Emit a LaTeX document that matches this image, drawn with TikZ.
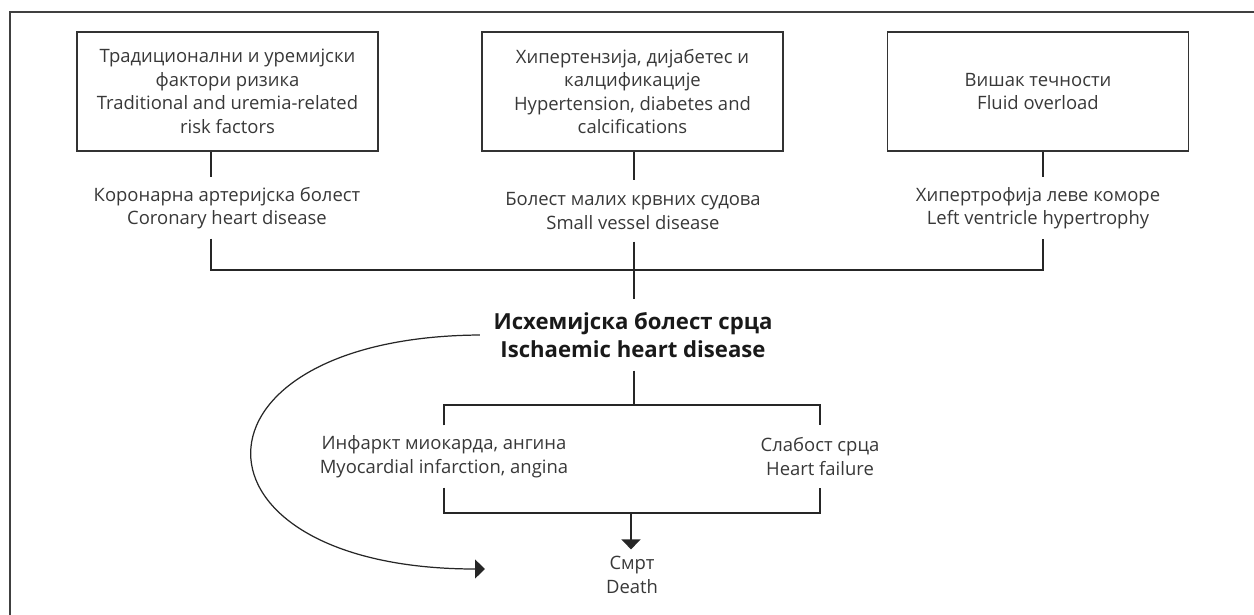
\documentclass[tikz,border=0pt]{standalone}
\usepackage{fontspec}
\setmainfont{Open Sans}
\usetikzlibrary{arrows.meta, positioning}

\begin{document}
\begin{tikzpicture}[
    x=0.02cm, y=-0.02cm,
    line width=0.7pt,
    every node/.style={font=\fontsize{10.5}{13.4}\selectfont, align=center, text=black!78},
    factor/.style={draw=black!80, minimum width=6.02cm, minimum height=2.38cm, inner sep=0pt},
    disease/.style={inner sep=0pt, minimum height=1.2cm},
    outcome/.style={inner sep=0pt, minimum height=1.22cm},
    link/.style={draw=black!85},
    arrow/.style={link, -{Triangle[length=2mm, width=3.8mm]}}
]
\useasboundingbox (0,0) rectangle (1254,615);
\draw[black!75, line width=0.8pt] (1300,12) -- (10,12) -- (10,650);

% risk factors
\node[factor] (risk) at (227.5,91.5) {Традиционални и уремијски\\фактори ризика\\Traditional and uremia-related\\risk factors};
\node[factor] (hyper) at (632.5,91.5) {Хипертензија, дијабетес и\\калцификације\\Hypertension, diabetes and\\calcifications};
\node[factor] (fluid) at (1038,91.5) {Вишак течности\\Fluid overload};

\coordinate (stem1) at (211,270);
\coordinate (stem2) at (634,270);
\coordinate (stem3) at (1043,270);

\node[disease] (coronary) at (227,208) {Коронарна артеријска болест\\Coronary heart disease};
\node[disease] (vessel) at (633,211) {Болест малих крвних судова\\Small vessel disease};
\node[disease] (lvh) at (1038,208) {Хипертрофија леве коморе\\Left ventricle hypertrophy};

\node[font=\fontsize{12.6}{16}\selectfont\bfseries, text=black!90, inner xsep=0.26cm, inner ysep=0pt, minimum height=1.4cm] (ihd) at (633,335) {Исхемијска болест срца\\Ischaemic heart disease};

% outcomes
\coordinate (split) at (634,405);
\node[outcome] (infarct) at (444,456.5) {Инфаркт миокарда, ангина\\Myocardial infarction, angina};
\node[outcome] (failure) at (820,456.5) {Слабост срца\\Heart failure};
\coordinate (merge) at (631,513);
\node[inner sep=0pt, minimum height=1cm] (death) at (632,575) {Смрт\\Death};
\coordinate (loopend) at (485,569);

\draw[link] (risk.south -| stem1) -- (coronary.north -| stem1);
\draw[link] (hyper.south -| stem2) -- (vessel.north -| stem2);
\draw[link] (fluid.south -| stem3) -- (lvh.north -| stem3);
\draw[link] (coronary.south -| stem1) -- (stem1) -- (stem3) -- (lvh.south -| stem3);
\draw[link] (vessel.south -| stem2) -- (ihd.north -| stem2);
\draw[link] (ihd.south -| split) -- (split);
\draw[link] (infarct.north) |- (split) -| (failure.north);
\draw[link] (infarct.south) |- (merge) -| (failure.south);
\draw[arrow] (merge) -- (death.north -| merge);
\draw[arrow] (ihd.west) .. controls (175,337) and (175,569) .. (loopend);
\end{tikzpicture}
\end{document}
